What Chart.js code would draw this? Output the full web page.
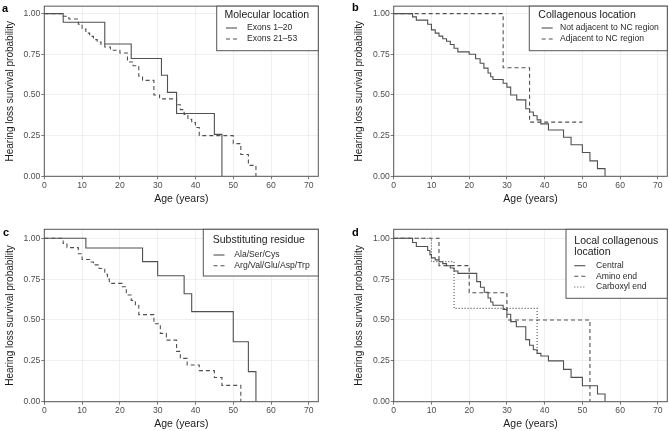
<!DOCTYPE html>
<html lang="en">
<head>
<meta charset="UTF-8" />
<title>Hearing loss survival by variant group</title>
<script src="https://cdn.jsdelivr.net/npm/chart.js"></script>
<style>
  html, body { margin: 0; padding: 0; background: #fff; }
  #wrap { position: relative; width: 669px; height: 431px; overflow: hidden; }
  canvas { position: absolute; }
</style>
</head>
<body>
<div id="wrap">
  <canvas id="pa" width="335" height="215" style="left:0;top:0"></canvas>
  <canvas id="pb" width="334" height="215" style="left:335px;top:0"></canvas>
  <canvas id="pc" width="335" height="216" style="left:0;top:215px"></canvas>
  <canvas id="pd" width="334" height="216" style="left:335px;top:215px"></canvas>
</div>
<script>
// axis ticks
const xTicks = [0, 10, 20, 30, 40, 50, 60, 70];
const yTicks = [0, 0.25, 0.5, 0.75, 1];
const xTitle = 'Age (years)';
const yTitle = 'Hearing loss survival probability';

// a: molecular location
const aTitle = ['Molecular location'];
const aLabels = ['Exons 1–20', 'Exons 21–53'];
const aSolidT = [0, 5, 16, 23, 31, 32.6, 35, 45, 47];
const aSolidS = [1, 0.947, 0.813, 0.724, 0.621, 0.516, 0.386, 0.258, 0];
const aDashT = [0, 5, 6.5, 9, 10, 11, 12, 13, 14, 15, 16, 17.5, 20, 22, 23.5, 25, 26, 29, 30.5, 35, 36, 37, 38, 39, 40, 41, 50, 52, 54, 56];
const aDashS = [1, 0.984, 0.967, 0.935, 0.905, 0.88, 0.86, 0.84, 0.825, 0.81, 0.795, 0.775, 0.758, 0.703, 0.68, 0.615, 0.59, 0.50, 0.476, 0.44, 0.41, 0.38, 0.35, 0.33, 0.30, 0.25, 0.201, 0.134, 0.067, 0];

// b: collagenous location
const bTitle = ['Collagenous location'];
const bLabels = ['Not adjacent to NC region', 'Adjacent to NC region'];
const bSolidT = [0, 5, 6, 9, 10, 11, 12, 13, 14, 15, 16, 17, 20, 21.7, 22.9, 23.9, 25, 25.7, 26.3, 29, 30, 31, 32.6, 35, 36, 37, 38, 39, 41, 45, 47, 50, 52, 54, 56];
const bSolidS = [1, 0.98, 0.96, 0.935, 0.90, 0.88, 0.862, 0.846, 0.83, 0.81, 0.787, 0.765, 0.75, 0.723, 0.695, 0.665, 0.635, 0.612, 0.595, 0.572, 0.548, 0.50, 0.47, 0.415, 0.395, 0.372, 0.347, 0.322, 0.285, 0.24, 0.194, 0.146, 0.095, 0.047, 0];
const bDashT = [0, 29, 36, 50];
const bDashS = [1, 0.667, 0.333, 0.333];

// c: substituting residue
const cTitle = ['Substituting residue'];
const cLabels = ['Ala/Ser/Cys', 'Arg/Val/Glu/Asp/Trp'];
const cSolidT = [0, 11, 26, 30, 37, 39, 50, 54, 56];
const cSolidS = [1, 0.941, 0.857, 0.771, 0.661, 0.551, 0.367, 0.184, 0];
const cDashT = [0, 5, 6, 9, 10, 12, 13, 14.5, 16, 16.7, 17.2, 20.6, 21.7, 23, 24.1, 25, 29, 30.7, 32.3, 35, 36, 37.8, 41, 45, 47, 52];
const cDashS = [1, 0.968, 0.943, 0.905, 0.87, 0.855, 0.837, 0.815, 0.78, 0.75, 0.724, 0.703, 0.653, 0.62, 0.59, 0.533, 0.477, 0.418, 0.377, 0.308, 0.265, 0.225, 0.19, 0.148, 0.10, 0];

// d: local collagenous location
const dTitle = ['Local collagenous', 'location'];
const dLabels = ['Central', 'Amino end', 'Carboxyl end'];
const dCentT = [0, 5, 6, 9, 9.6, 10, 11, 12, 13, 14, 15, 16, 17, 22, 23, 24, 25, 25.7, 26.3, 29, 30, 31, 32.5, 35, 36, 37, 38, 39, 41, 45, 47, 50, 54, 56];
const dCentS = [1, 0.974, 0.95, 0.925, 0.90, 0.88, 0.868, 0.856, 0.845, 0.832, 0.818, 0.80, 0.785, 0.735, 0.70, 0.67, 0.635, 0.61, 0.59, 0.565, 0.535, 0.49, 0.459, 0.38, 0.345, 0.318, 0.296, 0.28, 0.25, 0.198, 0.149, 0.098, 0.047, 0];
const dAminoT = [0, 12, 20, 30, 52];
const dAminoS = [1, 0.833, 0.667, 0.5, 0];
const dCarbT = [0, 10, 16, 38];
const dCarbS = [1, 0.857, 0.571, 0.286];

const lineColor = '#505050';
const frameColor = '#555555';
const FONT = '"Liberation Sans", Arial, sans-serif';
const DASH = { solid: [], dashed: [4, 3], dotted: [1, 2] };

function steps(t, s) {
  return t.map((v, i) => ({ x: v, y: s[i] }));
}

const extras = {
  id: 'extras',
  afterDraw(chart, args, o) {
    const { ctx, chartArea: ca } = chart;
    ctx.save();
    ctx.lineWidth = 1;
    ctx.strokeStyle = frameColor;
    ctx.strokeRect(ca.left, ca.top, ca.right - ca.left, ca.bottom - ca.top);

    // legend box
    const lg = o.legend;
    ctx.fillStyle = '#fff';
    ctx.fillRect(lg.x0, ca.top, ca.right - lg.x0, lg.y1 - ca.top);
    ctx.strokeRect(lg.x0, ca.top, ca.right - lg.x0, lg.y1 - ca.top);
    ctx.fillStyle = '#1a1a1a';
    ctx.textBaseline = 'middle';
    ctx.textAlign = 'left';
    ctx.font = '10.5px ' + FONT;
    o.title.forEach((t, i) => ctx.fillText(t, lg.tx, lg.ty[i]));
    ctx.font = '8.6px ' + FONT;
    o.labels.forEach((t, i) => {
      const y = lg.iy[i];
      ctx.strokeStyle = lineColor;
      ctx.lineWidth = 1.1;
      ctx.setLineDash(DASH[o.dashes[i]]);
      ctx.beginPath();
      ctx.moveTo(lg.sx, y);
      ctx.lineTo(lg.sx + 11, y);
      ctx.stroke();
      ctx.setLineDash([]);
      ctx.fillStyle = '#2a2a2a';
      ctx.fillText(t, lg.lx, y);
    });

    // panel letter
    ctx.fillStyle = '#000';
    ctx.textBaseline = 'alphabetic';
    ctx.font = 'bold 11px ' + FONT;
    ctx.fillText(o.letter, o.letterPos[0], o.letterPos[1]);
    ctx.restore();
  }
};

function panel(id, box, letter, title, labels, series, legendBox) {
  new Chart(document.getElementById(id), {
    type: 'line',
    data: {
      datasets: series.map(s => ({
        data: steps(s.t, s.s),
        stepped: 'before',
        borderColor: lineColor,
        borderWidth: 1.1,
        borderDash: DASH[s.dash],
        pointRadius: 0,
        fill: false,
        tension: 0
      }))
    },
    options: {
      responsive: false,
      animation: false,
      events: [],
      layout: { padding: { left: 0, top: box.T, right: box.W - box.R, bottom: 0 } },
      plugins: {
        legend: { display: false },
        tooltip: { enabled: false },
        extras: {
          letter: letter,
          letterPos: box.letter,
          title: title,
          labels: labels,
          dashes: series.map(s => s.dash),
          legend: legendBox
        }
      },
      scales: {
        x: {
          type: 'linear',
          min: 0,
          max: 72.5,
          afterBuildTicks: s => { s.ticks = xTicks.map(v => ({ value: v })); },
          afterFit: s => { s.height = box.H - box.B; },
          grid: { color: '#ebebeb', lineWidth: 0.8, tickColor: frameColor, tickLength: 3 },
          border: { display: false },
          ticks: { color: '#4d4d4d', font: { family: FONT, size: 8.6 }, padding: 1, maxRotation: 0 },
          title: { display: true, text: xTitle, color: '#1a1a1a', font: { family: FONT, size: 10.5 }, padding: { top: 0, bottom: box.xtPad } }
        },
        y: {
          min: 0,
          max: box.ymax,
          afterBuildTicks: s => { s.ticks = yTicks.map(v => ({ value: v })); },
          afterFit: s => { s.width = box.L; },
          grid: { color: '#ebebeb', lineWidth: 0.8, tickColor: frameColor, tickLength: 3 },
          border: { display: false },
          ticks: { color: '#4d4d4d', font: { family: FONT, size: 8.6 }, padding: 1, callback: v => v.toFixed(2) },
          title: { display: true, text: yTitle, color: '#1a1a1a', font: { family: FONT, size: 10 }, padding: { top: box.ytPad, bottom: 0 } }
        }
      }
    },
    plugins: [extras]
  });
}

panel('pa',
  { W: 335, H: 215, L: 44.3, T: 4.5, R: 318.3, B: 176.3, ymax: 1.046, xtPad: 9.7, ytPad: 4.3, letter: [2, 12] },
  'a', aTitle, aLabels,
  [{ t: aSolidT, s: aSolidS, dash: 'solid' }, { t: aDashT, s: aDashS, dash: 'dashed' }],
  { x0: 216.7, y1: 50.7, tx: 224.5, ty: [14.7], sx: 226, lx: 247, iy: [28, 39] });

panel('pb',
  { W: 334, H: 215, L: 58.7, T: 4.5, R: 332.3, B: 176.3, ymax: 1.046, xtPad: 9.7, ytPad: 18, letter: [17, 11] },
  'b', bTitle, bLabels,
  [{ t: bSolidT, s: bSolidS, dash: 'solid' }, { t: bDashT, s: bDashS, dash: 'dashed' }],
  { x0: 194.3, y1: 50.7, tx: 203.3, ty: [14.7], sx: 206.7, lx: 225, iy: [28, 39] });

panel('pc',
  { W: 335, H: 216, L: 44.3, T: 14.3, R: 318.3, B: 186.7, ymax: 1.055, xtPad: 0.4, ytPad: 4.5, letter: [3, 21] },
  'c', cTitle, cLabels,
  [{ t: cSolidT, s: cSolidS, dash: 'solid' }, { t: cDashT, s: cDashS, dash: 'dashed' }],
  { x0: 203.3, y1: 61, tx: 212.7, ty: [25.3], sx: 213.5, lx: 234.3, iy: [40, 50.7] });

panel('pd',
  { W: 334, H: 216, L: 58.7, T: 14.3, R: 332.3, B: 186.7, ymax: 1.055, xtPad: 0.4, ytPad: 17.8, letter: [17, 21] },
  'd', dTitle, dLabels,
  [{ t: dCentT, s: dCentS, dash: 'solid' }, { t: dAminoT, s: dAminoS, dash: 'dashed' }, { t: dCarbT, s: dCarbS, dash: 'dotted' }],
  { x0: 231, y1: 83.3, tx: 239.3, ty: [25.7, 36.7], sx: 239.3, lx: 261, iy: [50.7, 61.3, 72] });
</script>
</body>
</html>
